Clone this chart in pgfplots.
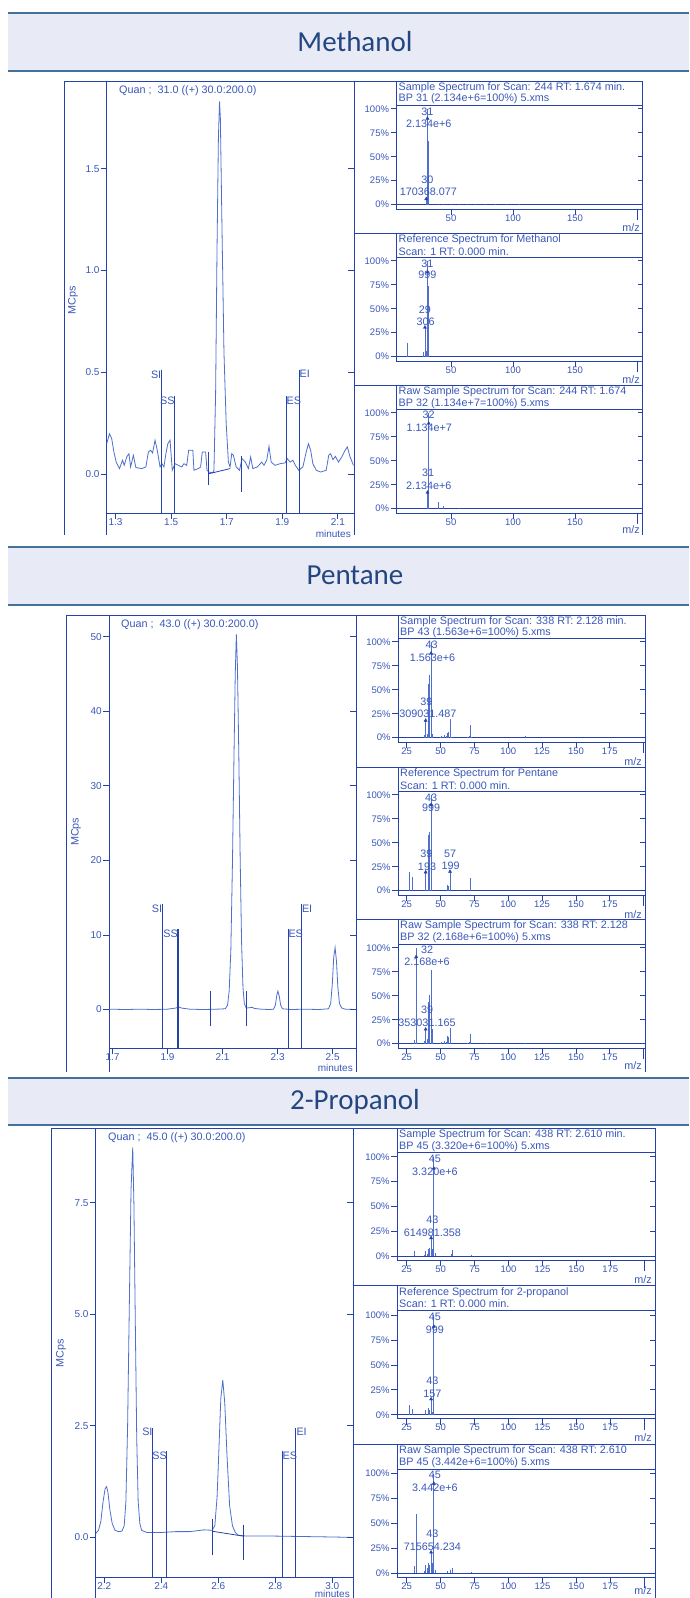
\documentclass[border=0pt]{standalone}
\usepackage{fontspec}
\setmainfont{Liberation Sans}
\newfontfamily\titlefont{Carlito}
\usepackage{pgfplots}
\pgfplotsset{compat=1.18}
\definecolor{fb}{RGB}{38,66,168}
\definecolor{lb}{RGB}{78,112,204}
\definecolor{tb}{RGB}{58,88,186}
\definecolor{bandfill}{RGB}{232,235,245}
\definecolor{bandline}{RGB}{65,113,156}
\definecolor{titlec}{RGB}{35,70,130}
\newcommand\tf{\fontsize{10.8}{12.5}\selectfont}
\tikzset{lab/.style={text=tb, font=\tf, inner sep=0pt}}
\newcommand{\pk}[3]{\node[lab] at (axis cs:#1,#2) {#3};}
\pgfplotsset{
  /pgf/number format/assume math mode=true,
  base/.style={scale only axis, axis line style={fb,line width=0.9pt},
    tick style={fb,line width=0.8pt}, tick align=outside, xtick pos=left, ytick pos=left,
    ticklabel style={text=tb}, clip=true},
  chrom/.style={base, major tick length=6pt,
    ticklabel style={font=\fontsize{10}{12}\selectfont},
    yticklabel style={inner sep=1pt},
    xticklabel style={yshift=4pt}},
  spec/.style={base, major tick length=6pt,
    ticklabel style={font=\fontsize{9.5}{11}\selectfont},
    yticklabel style={inner sep=1.5pt},
    xticklabel style={yshift=4pt},
    ytick={0,25,50,75,100}, yticklabels={0\%,25\%,50\%,75\%,100\%},
    extra x ticks={200}, extra x tick labels={}, extra x tick style={major tick length=11pt}},
}
% #1 left x, #2 bottom y, #3 width, #4 height, #5 xmin, #6 xmax, #7 opts, #8 bars, #9 annotations
\newcommand{\spec}[9]{%
\begin{axis}[spec, at={(#1pt,-#2pt)}, anchor=south west, width=#3pt, height=#4pt, xmin=#5, xmax=#6, #7]
\addplot[fb, line width=0.8pt] coordinates {(#5,0)(#6,0)};
\addplot[ycomb, lb, line width=0.9pt] coordinates {#8};
#9
\pgfplotsinvokeforeach{0,25,50,75,100}{\draw[fb, line width=0.8pt] (axis cs:#6,##1) -- ++(-5pt,0pt);}
\draw[fb, line width=0.8pt] (rel axis cs:0,0) -- ++(0pt,-10pt);
\end{axis}}
\newcommand{\arrows}[1]{\addplot[only marks, mark=triangle*, mark size=1.8pt, fb] coordinates {#1};}
\begin{document}
\begin{tikzpicture}
\useasboundingbox (0,0) rectangle (689pt,-1598pt);
\fill[white] (0,0) rectangle (689pt,-1598pt);
\begin{scope}[x=1pt,y=-1pt]
% ---------- bands
\fill[bandfill] (8,13) rectangle (689,71);
\draw[bandline, line width=2pt] (8,13) -- (689,13) (8,71) -- (689,71);
\node[titlec, font=\titlefont\fontsize{29}{32}\selectfont] at (355,41.5) {Methanol};
\fill[bandfill] (8,547.3) rectangle (689,605.4);
\draw[bandline, line width=2pt] (8,547.3) -- (689,547.3) (8,605.4) -- (689,605.4);
\node[titlec, font=\titlefont\fontsize{29}{32}\selectfont] at (355,575.5) {Pentane};
\fill[bandfill] (8,1078.4) rectangle (689,1125);
\draw[bandline, line width=2pt] (8,1078.4) -- (689,1078.4) (8,1125) -- (689,1125);
\node[titlec, font=\titlefont\fontsize{29}{32}\selectfont] at (355,1101.5) {2-Propanol};
% ---------- frames
\begin{scope}[fb, line width=0.9pt]
\draw (64,535) -- (64,81) -- (642.7,81) -- (642.7,535);
\draw (354,81) -- (354,535) (106.7,513) -- (106.7,535);
\draw (354,233) -- (642.7,233) (354,385) -- (642.7,385);
\draw (396.7,81) -- (396.7,105) (396.7,233) -- (396.7,257) (396.7,385) -- (396.7,409);
\draw (66.7,1072) -- (66.7,615) -- (645,615) -- (645,1072);
\draw (356,615) -- (356,1072) (109,1048.3) -- (109,1072);
\draw (356,767.7) -- (645,767.7) (356,919.3) -- (645,919.3);
\draw (398.3,615) -- (398.3,638) (398.3,767.7) -- (398.3,791) (398.3,919.3) -- (398.3,944);
\draw (51,1598) -- (51,1128.3) -- (655,1128.3) -- (655,1598);
\draw (353.3,1128.3) -- (353.3,1598) (95.7,1577.3) -- (95.7,1598);
\draw (353.3,1285.7) -- (655,1285.7) (353.3,1444) -- (655,1444);
\draw (397.3,1128.3) -- (397.3,1152.3) (397.3,1285.7) -- (397.3,1310.7) (397.3,1444) -- (397.3,1469);
\end{scope}
% ---------- frame texts
\begin{scope}[every node/.style={text=tb, font=\tf, inner sep=0pt}]
\node[anchor=west] at (119,91) {Quan ;\ \ 31.0 ((+) 30.0:200.0)};
\node[anchor=west] at (121,624.5) {Quan ;\ \ 43.0 ((+) 30.0:200.0)};
\node[anchor=west] at (108,1137.5) {Quan ;\ \ 45.0 ((+) 30.0:200.0)};
\node[rotate=90] at (73,300) {MCps};
\node[rotate=90] at (76,831.7) {MCps};
\node[rotate=90] at (61,1353) {MCps};
\node[anchor=east, font=\fontsize{10}{11}\selectfont] at (351,533.5) {minutes};
\node[anchor=east, font=\fontsize{10}{11}\selectfont] at (353,1067.5) {minutes};
\node[anchor=east, font=\fontsize{10}{11}\selectfont] at (350,1594) {minutes};
% spectra titles
\node[anchor=west] at (398.5,87.5) {Sample Spectrum for Scan: 244 RT: 1.674 min.};
\node[anchor=west] at (398.5,99) {BP 31 (2.134e+6=100\%) 5.xms};
\node[anchor=west] at (398.5,239.5) {Reference Spectrum for Methanol};
\node[anchor=west] at (398.5,251.5) {Scan: 1 RT: 0.000 min.};
\node[anchor=west] at (398.5,391.5) {Raw Sample Spectrum for Scan: 244 RT: 1.674};
\node[anchor=west] at (398.5,403.5) {BP 32 (1.134e+7=100\%) 5.xms};
\node[anchor=west] at (400,621.5) {Sample Spectrum for Scan: 338 RT: 2.128 min.};
\node[anchor=west] at (400,632.5) {BP 43 (1.563e+6=100\%) 5.xms};
\node[anchor=west] at (400,773.5) {Reference Spectrum for Pentane};
\node[anchor=west] at (400,785.5) {Scan: 1 RT: 0.000 min.};
\node[anchor=west] at (400,926) {Raw Sample Spectrum for Scan: 338 RT: 2.128};
\node[anchor=west] at (400,938) {BP 32 (2.168e+6=100\%) 5.xms};
\node[anchor=west] at (399,1134.5) {Sample Spectrum for Scan: 438 RT: 2.610 min.};
\node[anchor=west] at (399,1146.5) {BP 45 (3.320e+6=100\%) 5.xms};
\node[anchor=west] at (399,1292.5) {Reference Spectrum for 2-propanol};
\node[anchor=west] at (399,1304) {Scan: 1 RT: 0.000 min.};
\node[anchor=west] at (399,1450.5) {Raw Sample Spectrum for Scan: 438 RT: 2.610};
\node[anchor=west] at (399,1463) {BP 45 (3.442e+6=100\%) 5.xms};
% m/z
\node[anchor=east] at (640,228) {m/z};
\node[anchor=east] at (640,380) {m/z};
\node[anchor=east] at (640,530) {m/z};
\node[anchor=east] at (642,761.5) {m/z};
\node[anchor=east] at (642,914.5) {m/z};
\node[anchor=east] at (642,1066) {m/z};
\node[anchor=east] at (652,1280) {m/z};
\node[anchor=east] at (652,1438) {m/z};
\node[anchor=east] at (652,1591) {m/z};
\end{scope}
\end{scope}

% ================= SECTION 1: Methanol chromatogram
\begin{axis}[chrom, at={(106.7pt,-513pt)}, anchor=south west, width=247.3pt, height=432pt,
  xmin=1.268, xmax=2.158, ymin=-0.19, ymax=1.93,
  xtick={1.3,1.5,1.7,1.9,2.1}, xticklabels={1.3,1.5,1.7,1.9,2.1},
  ytick={0,0.5,1,1.5}, yticklabels={0.0,0.5,1.0,1.5}]
\addplot[lb, line width=0.8pt] coordinates {
(1.268,0.150)(1.278,0.199)(1.286,0.175)(1.294,0.109)(1.302,0.060)(1.314,0.028)(1.325,0.069)
(1.331,0.044)(1.340,0.085)(1.348,0.101)(1.354,0.036)(1.364,0.093)(1.373,0.033)(1.394,0.028)
(1.409,0.036)(1.418,0.109)(1.426,0.118)(1.433,0.105)(1.442,0.167)(1.450,0.118)(1.460,0.036)
(1.467,0.052)(1.474,0.036)(1.481,0.101)(1.488,0.150)(1.496,0.167)(1.504,0.020)(1.514,0.052)
(1.526,0.044)(1.538,0.036)(1.546,0.052)(1.556,0.044)(1.563,0.118)(1.578,0.118)(1.582,0.020)
(1.598,0.028)(1.606,0.036)(1.612,0.109)(1.624,0.109)(1.629,0.020)(1.636,0.011)(1.649,0.007)
(1.654,0.020)(1.660,0.40)(1.665,1.10)(1.670,1.65)(1.674,1.83)(1.677,1.75)(1.683,1.20)
(1.690,0.60)(1.698,0.25)(1.706,0.06)(1.712,0.036)(1.718,0.101)(1.724,0.093)(1.734,0.036)
(1.746,0.020)(1.755,0.077)(1.767,0.060)(1.778,0.028)(1.786,0.085)(1.794,0.028)(1.810,0.036)
(1.826,0.060)(1.834,0.044)(1.844,0.069)(1.852,0.137)(1.860,0.060)(1.874,0.044)(1.892,0.052)
(1.910,0.056)(1.918,0.077)(1.928,0.060)(1.938,0.069)(1.947,0.044)(1.959,0.020)(1.974,0.036)
(1.986,0.109)(1.994,0.150)(2.002,0.118)(2.010,0.052)(2.022,0.020)(2.038,0.011)(2.058,0.020)
(2.067,0.093)(2.074,0.101)(2.082,0.072)(2.091,0.088)(2.102,0.060)(2.114,0.085)(2.126,0.118)
(2.134,0.134)(2.144,0.085)(2.156,0.044)};
\addplot[fb, line width=0.8pt] coordinates {(1.636,0.003)(1.712,0.028)};
\addplot[fb, line width=0.8pt] coordinates {(1.633,0.11)(1.633,-0.055)};
\addplot[fb, line width=0.8pt] coordinates {(1.752,0.09)(1.752,-0.087)};
\addplot[fb, line width=0.9pt] coordinates {(1.465,0.513)(1.465,-0.19)};
\addplot[fb, line width=0.9pt] coordinates {(1.513,0.385)(1.513,-0.19)};
\addplot[fb, line width=0.9pt] coordinates {(1.915,0.385)(1.915,-0.19)};
\addplot[fb, line width=0.9pt] coordinates {(1.960,0.513)(1.960,-0.19)};
\node[lab, anchor=north east] at (axis cs:1.465,0.51) {SI};
\node[lab, anchor=north east] at (axis cs:1.513,0.382) {SS};
\node[lab, anchor=north west] at (axis cs:1.915,0.382) {ES};
\node[lab, anchor=north west] at (axis cs:1.962,0.51) {EI};
\pgfplotsinvokeforeach{0,0.5,1,1.5}{\draw[fb, line width=0.8pt] (axis cs:2.158,#1) -- ++(-6pt,0pt);}
\end{axis}

\spec{396.7}{209}{246}{104}{6.2}{204.6}{ymin=-4.5, ymax=104, xtick={50,100,150}, xticklabels={50,100,150}}
{(30,8)(31,100)(32,66)(40,0.8)(44,1)(50,0.6)(57,0.5)(63,0.6)(70,0.5)(78,0.5)(86,0.4)(95,0.4)(105,0.3)}
{\arrows{(31,90)(30,6)}\pk{31}{97}{31}\pk{32}{84}{2.134e+6}\pk{31}{25.8}{30}\pk{31.7}{13}{170368.077}}

\spec{396.7}{361}{246}{104}{6.2}{204.6}{ymin=-4.5, ymax=104, xtick={50,100,150}, xticklabels={50,100,150}}
{(15,14)(28,5)(29,31)(30,6)(31,100)(32,74)}
{\arrows{(31,88)(29,30.6)}\pk{31}{97.4}{31}\pk{31}{85.2}{999}\pk{29}{48.7}{29}\pk{29.5}{36.5}{306}}

\spec{396.7}{513}{246}{104}{6.2}{204.6}{ymin=-4.5, ymax=104, xtick={50,100,150}, xticklabels={50,100,150}}
{(31,18.8)(32,100)(40,7)(44,3)(57,0.5)}
{\arrows{(32,89)(31,17)}\pk{32}{97.7}{32}\pk{32.5}{84.9}{1.134e+7}\pk{31.5}{37}{31}\pk{32}{23.7}{2.134e+6}}

% ================= SECTION 2: Pentane
\begin{axis}[chrom, at={(109pt,-1048.3pt)}, anchor=south west, width=247pt, height=433.3pt,
  xmin=1.687, xmax=2.585, ymin=-5.2, ymax=52.9,
  xtick={1.7,1.9,2.1,2.3,2.5}, xticklabels={1.7,1.9,2.1,2.3,2.5},
  ytick={0,10,20,30,40,50}, yticklabels={0,10,20,30,40,50}]
\addplot[lb, line width=0.8pt] coordinates {
(1.687,0.05)(1.75,0.0)(1.80,0.05)(1.85,0.0)(1.90,0.05)(1.93,0.2)(1.941,0.35)(1.95,0.2)(1.98,0.05)
(2.03,0.0)(2.08,0.05)(2.110,0.1)(2.118,0.6)(2.124,2.5)(2.130,8)(2.136,20)(2.141,33)(2.146,45)
(2.150,50.3)(2.154,46)(2.159,34)(2.164,20)(2.169,9)(2.174,3)(2.179,0.8)(2.186,0.2)(2.20,0.25)
(2.207,0.3)(2.215,0.15)(2.24,0.05)(2.27,0.0)(2.285,0.05)(2.292,0.6)(2.297,1.9)(2.301,2.46)
(2.306,1.8)(2.311,0.6)(2.318,0.1)(2.35,0.0)(2.40,0.05)(2.45,0.0)(2.485,0.1)(2.493,0.8)
(2.499,3.5)(2.504,7)(2.509,8.3)(2.514,6.5)(2.519,3)(2.525,0.8)(2.533,0.2)(2.545,0.05)(2.585,0.0)};
\addplot[fb, line width=0.8pt] coordinates {(2.057,2.5)(2.057,-2.2)};
\addplot[fb, line width=0.8pt] coordinates {(2.187,2.5)(2.187,-2.2)};
\addplot[fb, line width=0.9pt] coordinates {(1.881,14.1)(1.881,-5.2)};
\addplot[fb, line width=1.1pt] coordinates {(1.938,10.8)(1.938,-5.2)};
\addplot[fb, line width=0.9pt] coordinates {(2.339,10.8)(2.339,-5.2)};
\addplot[fb, line width=0.9pt] coordinates {(2.386,14.1)(2.386,-5.2)};
\node[lab, anchor=north east] at (axis cs:1.881,14.0) {SI};
\node[lab, anchor=north east] at (axis cs:1.938,10.7) {SS};
\node[lab, anchor=north west] at (axis cs:2.339,10.7) {ES};
\node[lab, anchor=north west] at (axis cs:2.388,14.0) {EI};
\pgfplotsinvokeforeach{0,10,20,30,40,50}{\draw[fb, line width=0.8pt] (axis cs:2.585,#1) -- ++(-6pt,0pt);}
\end{axis}

\spec{398.3}{742}{246.7}{104}{18.8}{201}{ymin=-4.5, ymax=104, xtick={25,50,75,100,125,150,175}, xticklabels={25,50,75,100,125,150,175}}
{(38,3)(39,19.8)(40,4)(41,56)(42,65)(43,100)(44,4)(50,1)(51,1.5)(53,2.5)(54,1.5)(55,5)(56,6)(57,19)(58,1)(70,1)(71,2)(72,13)(73,1)(113,1.5)}
{\arrows{(43,88)(39,18)}\pk{43.5}{96.7}{43}\pk{44}{83.5}{1.563e+6}\pk{39.5}{37.6}{39}\pk{40.7}{24.8}{309031.487}}

\spec{398.3}{895}{246.7}{104}{18.8}{201}{ymin=-4.5, ymax=104, xtick={25,50,75,100,125,150,175}, xticklabels={25,50,75,100,125,150,175}}
{(27,19)(29,14)(39,19.3)(41,58)(42,61)(43,100)(55,6)(56,5)(57,19.9)(72,13)}
{\arrows{(43,89.4)(39,19.3)(57,19.9)}\pk{43}{97.4}{43}\pk{43}{86}{999}\pk{39.5}{38}{39}\pk{40}{25}{193}\pk{57}{38.5}{57}\pk{57.5}{25.5}{199}}

\spec{398.3}{1048}{246.7}{104}{18.8}{201}{ymin=-4.5, ymax=104, xtick={25,50,75,100,125,150,175}, xticklabels={25,50,75,100,125,150,175}}
{(31,4)(32,100)(38,3)(39,16.3)(40,5)(41,44)(42,51)(43,77)(44,15)(50,1)(51,2)(53,3)(54,2)(55,8)(56,7)(57,16)(70,1)(71,2)(72,10)(84,0.6)(113,1)}
{\arrows{(32,90.7)(39,15)}\pk{40}{97.7}{32}\pk{40}{85.5}{2.168e+6}\pk{40}{35.2}{39}\pk{40}{22}{353031.165}}

% ================= SECTION 3: 2-Propanol
\begin{axis}[chrom, at={(95.7pt,-1577.3pt)}, anchor=south west, width=257.6pt, height=449pt,
  xmin=2.17, xmax=3.074, ymin=-0.905, ymax=9.17,
  xtick={2.2,2.4,2.6,2.8,3.0}, xticklabels={2.2,2.4,2.6,2.8,3.0},
  ytick={0,2.5,5,7.5}, yticklabels={0.0,2.5,5.0,7.5}]
\addplot[lb, line width=0.8pt] coordinates {
(2.170,0.08)(2.180,0.15)(2.188,0.35)(2.196,0.8)(2.203,1.08)(2.208,1.13)(2.213,1.0)(2.220,0.6)
(2.228,0.3)(2.238,0.15)(2.250,0.12)(2.262,0.13)(2.270,0.25)(2.276,0.8)(2.282,2.5)(2.288,5.2)
(2.294,7.8)(2.300,8.74)(2.304,7.5)(2.309,4.8)(2.314,2.2)(2.319,0.8)(2.325,0.3)(2.331,0.15)
(2.35,0.1)(2.40,0.1)(2.45,0.12)(2.50,0.12)(2.55,0.16)(2.578,0.15)(2.588,0.25)(2.596,0.9)
(2.602,1.9)(2.609,3.1)(2.616,3.52)(2.623,3.0)(2.631,1.8)(2.640,0.7)(2.650,0.25)(2.660,0.1)
(2.670,0.04)(2.70,0.02)(2.80,0.02)(2.90,0.01)(3.00,0.0)(3.074,-0.01)};
\addplot[fb, line width=0.8pt] coordinates {(2.578,0.13)(2.687,0.02)};
\addplot[fb, line width=0.8pt] coordinates {(2.578,0.4)(2.578,-0.4)};
\addplot[fb, line width=0.8pt] coordinates {(2.687,0.28)(2.687,-0.52)};
\addplot[fb, line width=0.9pt] coordinates {(2.370,2.45)(2.370,-0.905)};
\addplot[fb, line width=0.9pt] coordinates {(2.420,1.92)(2.420,-0.905)};
\addplot[fb, line width=0.9pt] coordinates {(2.825,1.92)(2.825,-0.905)};
\addplot[fb, line width=0.9pt] coordinates {(2.872,2.45)(2.872,-0.905)};
\node[lab, anchor=north east] at (axis cs:2.370,2.44) {SI};
\node[lab, anchor=north east] at (axis cs:2.420,1.91) {SS};
\node[lab, anchor=north west] at (axis cs:2.825,1.91) {ES};
\node[lab, anchor=north west] at (axis cs:2.874,2.44) {EI};
\pgfplotsinvokeforeach{0,2.5,5,7.5}{\draw[fb, line width=0.8pt] (axis cs:3.074,#1) -- ++(-6pt,0pt);}
\end{axis}

\spec{397.3}{1260.3}{257.7}{108}{18.1}{207.9}{ymin=-4, ymax=104.5, xtick={25,50,75,100,125,150,175}, xticklabels={25,50,75,100,125,150,175}}
{(31,5)(38,1)(39,5)(40,2)(41,7)(42,8)(43,18.5)(44,7)(45,100)(46,3)(58,2)(59,6)(73,1)}
{\arrows{(45,88.4)(43,18.5)}\pk{45.8}{97.5}{45}\pk{45.8}{85}{3.320e+6}\pk{43.9}{37.2}{43}\pk{43.9}{24.1}{614981.358}}

\spec{397.3}{1418.7}{257.7}{108}{18.1}{207.9}{ymin=-4, ymax=104.5, xtick={25,50,75,100,125,150,175}, xticklabels={25,50,75,100,125,150,175}}
{(27,10)(29,6)(39,5)(41,7)(42,5)(43,15.7)(44,3)(45,100)}
{\arrows{(45,88.5)(43,15.7)}\pk{45.8}{97.9}{45}\pk{45.8}{85.8}{999}\pk{43.9}{34.6}{43}\pk{43.9}{21.2}{157}}

\spec{397.3}{1577}{257.7}{108}{18.1}{207.9}{ymin=-4, ymax=104.5, xtick={25,50,75,100,125,150,175}, xticklabels={25,50,75,100,125,150,175}}
{(31,7)(32,59.6)(38,2)(39,8)(40,5)(41,10)(42,8)(43,20.8)(44,10)(45,100)(46,3)(55,2)(57,3)(59,5)(73,1)}
{\arrows{(45,90)(43,20.8)}\pk{45.8}{98.5}{45}\pk{45.8}{85.7}{3.442e+6}\pk{43.9}{39.7}{43}\pk{43.9}{26.3}{715654.234}}
\end{tikzpicture}
\end{document}
